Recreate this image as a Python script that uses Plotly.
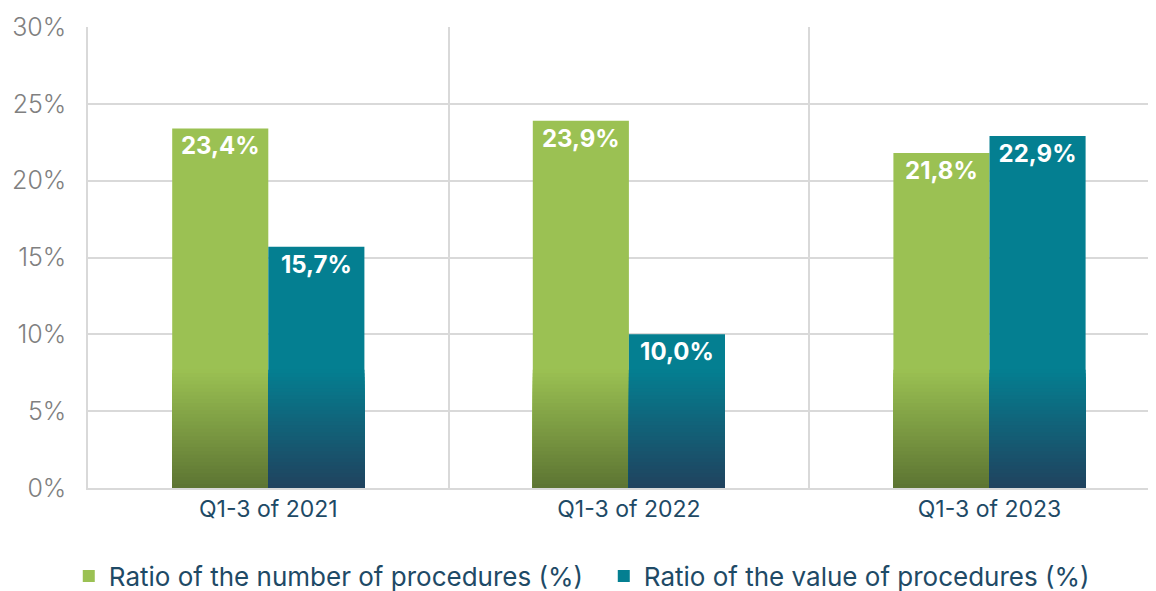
import plotly.graph_objects as go

categories = ["Q1-3 of 2021", "Q1-3 of 2022", "Q1-3 of 2023"]
number_ratio = [23.4, 23.9, 21.8]
value_ratio = [15.7, 10.0, 22.9]
series_names = ["Ratio of the number of procedures (%)", "Ratio of the value of procedures (%)"]
y_ticks = [0, 5, 10, 15, 20, 25, 30]

GREEN_TOP = (155, 193, 83)
GREEN_BOT = (92, 116, 50)
TEAL_TOP = (4, 127, 145)
TEAL_BOT = (32, 66, 94)
GRAD_START = 7.7   # gradient begins below this level (in %)
N_LAYERS = 32

FONT = "Inter"
TXT_BLUE = "#1e4a66"
GRID = "#d9d9d9"

# page body has an 8px offset; compensate so the plot area lands where the reference has it
OFF = 8
W, H = 1156, 591
PL, PT, PB = 88 - OFF, 27 - OFF, 488 - OFF   # plot-area edges in figure px
PR = W - OFF                                   # plot right edge (screen 1156)


def mix(c1, c2, t):
    return "rgb(%d,%d,%d)" % tuple(round(a + (b - a) * t) for a, b in zip(c1, c2))


fig = go.Figure()

for name, vals, top, bot, grp in [
    (series_names[0], number_ratio, GREEN_TOP, GREEN_BOT, "a"),
    (series_names[1], value_ratio, TEAL_TOP, TEAL_BOT, "b"),
]:
    fig.add_trace(go.Bar(
        x=categories, y=vals, name=name, offsetgroup=grp,
        marker=dict(color=mix(top, top, 0), line=dict(width=0)),
        texttemplate="%{y:.1f}%", textposition="inside", insidetextanchor="end",
        textfont=dict(family=FONT, size=24, color="white", weight="bold"),
        textangle=0, hoverinfo="skip",
    ))
    for k in range(N_LAYERS):
        h = GRAD_START * (1 - k / N_LAYERS)
        h_next = GRAD_START * (1 - (k + 1) / N_LAYERS)
        t = 1 - (h + h_next) / (2 * GRAD_START)
        fig.add_trace(go.Bar(
            x=categories, y=[min(v, h) for v in vals], offsetgroup=grp,
            marker=dict(color=mix(top, bot, t), line=dict(width=0)),
            showlegend=False, hoverinfo="skip",
        ))

cat_px = 360.6
cat_w = (PR - PL) / cat_px
plot_h = PB - PT
legend_y = (PB - (576 - OFF)) / plot_h

fig.update_layout(
    width=W, height=H,
    margin=dict(l=PL, r=W - PR, t=PT, b=H - PB, autoexpand=False),
    paper_bgcolor="white", plot_bgcolor="white",
    barmode="group", bargap=0.467, bargroupgap=0,
    separators=",.",
    xaxis=dict(
        type="category", range=[-0.5, -0.5 + cat_w],
        showgrid=True, gridcolor=GRID, gridwidth=1.5, tickson="boundaries",
        showline=True, linecolor=GRID, linewidth=1.5, ticks="",
        tickfont=dict(family=FONT, size=23, color=TXT_BLUE),
    ),
    yaxis=dict(
        range=[0, 30], tickvals=y_ticks, ticktext=[f"{v}%" for v in y_ticks],
        showgrid=True, gridcolor=GRID, gridwidth=1.5, zeroline=False,
        showline=True, linecolor=GRID, linewidth=1.5, ticks="",
        ticklabelstandoff=15,
        tickfont=dict(family=FONT, size=25, color="#808080", weight=300),
    ),
    legend=dict(
        orientation="h", x=-0.018, xanchor="left", y=legend_y, yanchor="middle",
        font=dict(family=FONT, size=26, color=TXT_BLUE),
        itemwidth=30, traceorder="normal", entrywidth=490,
    ),
    showlegend=True,
)

fig.write_html("out.html")
